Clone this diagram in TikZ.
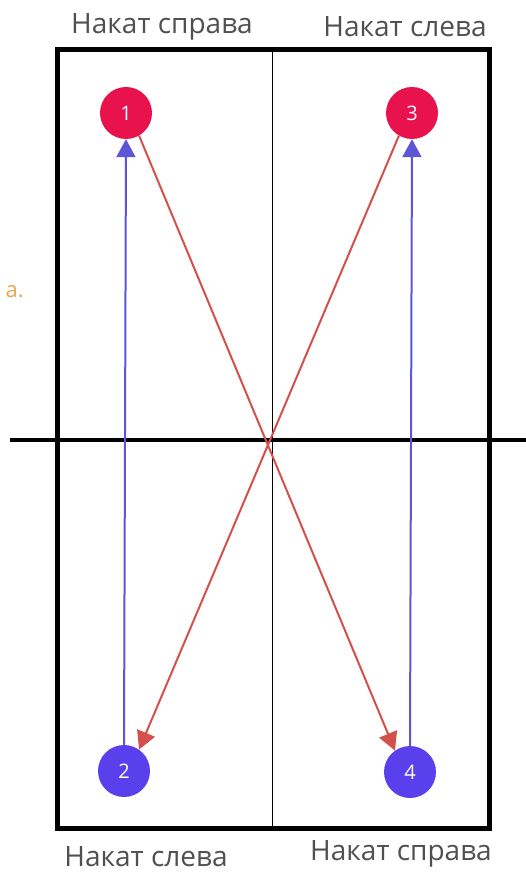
\documentclass[tikz,border=0pt]{standalone}
\usepackage{fontspec}
\setmainfont{Open Sans}
\usetikzlibrary{arrows.meta}
\definecolor{dotred}{HTML}{E8124C}
\definecolor{dotblue}{HTML}{5A40EC}
\definecolor{linered}{HTML}{D4504C}
\definecolor{lineblue}{HTML}{5E56D6}
\definecolor{txtgray}{HTML}{505050}
\definecolor{orangetxt}{HTML}{E8A850}
\begin{document}
\begin{tikzpicture}[x=1pt,y=-1pt,
  reddot/.style={circle,fill=dotred,text=white,minimum size=52pt,inner sep=0pt,font=\fontsize{20}{22}\selectfont},
  bluedot/.style={circle,fill=dotblue,text=white,minimum size=52pt,inner sep=0pt,font=\fontsize{20}{22}\selectfont},
  lbl/.style={text=txtgray,font=\fontsize{28}{30}\selectfont,inner sep=0pt},
  redarrow/.style={draw=linered,line width=2pt,-{Triangle[length=18pt,width=19pt]},color=linered},
  bluearrow/.style={draw=lineblue,line width=2pt,-{Triangle[length=18pt,width=19pt]},color=lineblue}]
\useasboundingbox (0,0) rectangle (526,874);
\fill[white] (0,0) rectangle (526,874);
% table
\draw[line width=5pt] (57,50) rectangle (489,828);
\coordinate (ctop) at (272,50);
\coordinate (cbot) at (272,828);
\draw[line width=1pt] (ctop) -- (cbot);
\coordinate (netl) at (10,440);
\coordinate (netr) at (526,440);
\draw[line width=4.5pt] (netl) -- (netr);
% dots
\node[reddot] (d1) at (126,113) {1};
\node[reddot] (d3) at (412,113) {3};
\node[bluedot] (d2) at (124,771) {2};
\node[bluedot] (d4) at (410,772) {4};
% arrows
\draw[bluearrow] (d2.north) -- (d1.south);
\draw[bluearrow] (d4.north) -- (d3.south);
\draw[redarrow] (d1.-60) -- (d4.125);
\draw[redarrow] (d3.-120) -- (d2.55);
% labels
\node[lbl] (t1) at (162,27) {Накат справа};
\node[lbl] (t2) at (405,27) {Накат слева};
\node[lbl] (b1) at (146,857) {Накат слева};
\node[lbl] (b2) at (401,854) {Накат справа};
\node[text=orangetxt,font=\fontsize{22}{24}\selectfont,inner sep=0pt,anchor=east] (side) at (24,292) {а.};
\end{tikzpicture}
\end{document}
